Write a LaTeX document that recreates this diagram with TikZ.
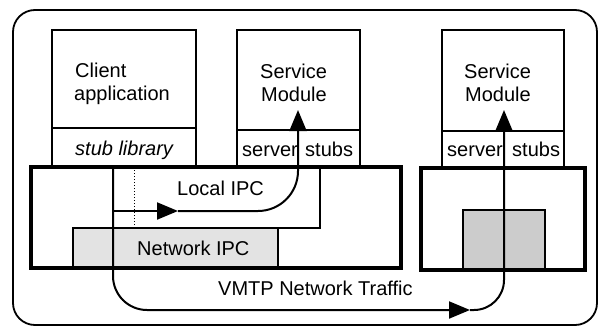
\documentclass[tikz,border=0pt]{standalone}
\usepackage{fontspec}
\setmainfont{Liberation Sans}
\usetikzlibrary{arrows.meta}
\begin{document}
\begin{tikzpicture}[x=1pt,y=-1pt,
  box/.style={draw, line width=2.4pt, inner sep=0pt, outer sep=0pt, anchor=north west},
  kbox/.style={draw, line width=3.6pt, inner sep=0pt, outer sep=0pt, anchor=north west},
  area/.style={inner sep=0pt, outer sep=0pt, anchor=north west},
  lbl/.style={font=\fontsize{20}{23}\selectfont, inner sep=0pt, anchor=base west},
  flow/.style={line width=2pt},
  tip/.style={-{Triangle[length=21pt,width=17pt]}}
]
\useasboundingbox (0,0) rectangle (604,329);

% outer frame
\draw[line width=1.8pt, rounded corners=22pt] (13,10) rectangle (597,325);

% shaded IPC areas
\node[area, fill=gray!22, draw, line width=2.2pt, minimum width=205pt, minimum height=40pt] (netipc) at (73,228) {};
\node[area, fill=gray!40, draw, line width=2.4pt, minimum width=82pt, minimum height=60pt] (rnet) at (463,210) {};

% client side
\node[box, minimum width=144pt, minimum height=98pt] (client) at (52,30) {};
\node[box, minimum width=144pt, minimum height=39pt] (stublib) at (52,128) {};

% local service module
\node[box, minimum width=123pt, minimum height=100pt] (svcA) at (237,30) {};
\node[box, minimum width=123pt, minimum height=37pt] (stubsA) at (237,130) {};

% remote service module
\node[box, minimum width=122pt, minimum height=101pt] (svcB) at (442,30) {};
\node[box, minimum width=122pt, minimum height=37pt] (stubsB) at (442,131) {};

% kernels
\node[kbox, minimum width=370pt, minimum height=101pt] (kernA) at (31,167) {};
\node[kbox, minimum width=164pt, minimum height=102pt] (kernB) at (421,168) {};

% local IPC region
\node[area, minimum width=186pt, minimum height=61pt] (lipc) at (134,167) {};
\draw[line width=2.2pt] (lipc.north east) -- (lipc.south east) -- (lipc.south west);
\draw[line width=1pt, dotted] (lipc.south west) -- (lipc.north west);

% message paths
\coordinate (stubOut) at (113,167);
\coordinate (vmtpBend) at (113,310);
\coordinate (vmtpMid) at (470,310);
\coordinate (vmtpUp) at (504,310);
\coordinate (svcBIn) at (504,110);
\coordinate (lipcStart) at (113,211);
\coordinate (lipcMid) at (178,211);
\coordinate (lipcBend) at (298,211);
\coordinate (svcAIn) at (298,110);

\draw[flow, tip, rounded corners=34pt] (stubOut) -- (vmtpBend) -- (vmtpMid);
\draw[flow, tip, rounded corners=30pt] (vmtpMid) -- (vmtpUp) -- (svcBIn);
\draw[flow, tip] (lipcStart) -- (lipcMid);
\draw[flow, tip, rounded corners=40pt] (lipcMid) -- (lipcBend) -- (svcAIn);

% labels
\node[lbl] (tClient) at (75,77) {Client};
\node[lbl] (tApp) at (74,100) {application};
\node[lbl, font=\fontsize{20}{23}\selectfont\itshape] (tStub) at (75,155) {stub library};
\node[lbl] (tSvcA1) at (260,78) {Service};
\node[lbl] (tSvcA2) at (261,101) {Module};
\node[lbl] (tSvcB1) at (464,78) {Service};
\node[lbl] (tSvcB2) at (465,101) {Module};
\node[lbl, anchor=base east] (tSrvA) at (298,156) {server};
\node[lbl] (tStbA) at (305,156) {stubs};
\node[lbl, anchor=base east] (tSrvB) at (503,156) {server};
\node[lbl] (tStbB) at (512,156) {stubs};
\node[lbl] (tLocal) at (177,195) {Local IPC};
\node[lbl] (tNet) at (137,255) {Network IPC};
\node[lbl] (tVmtp) at (218,295) {VMTP Network Traffic};
\end{tikzpicture}
\end{document}
